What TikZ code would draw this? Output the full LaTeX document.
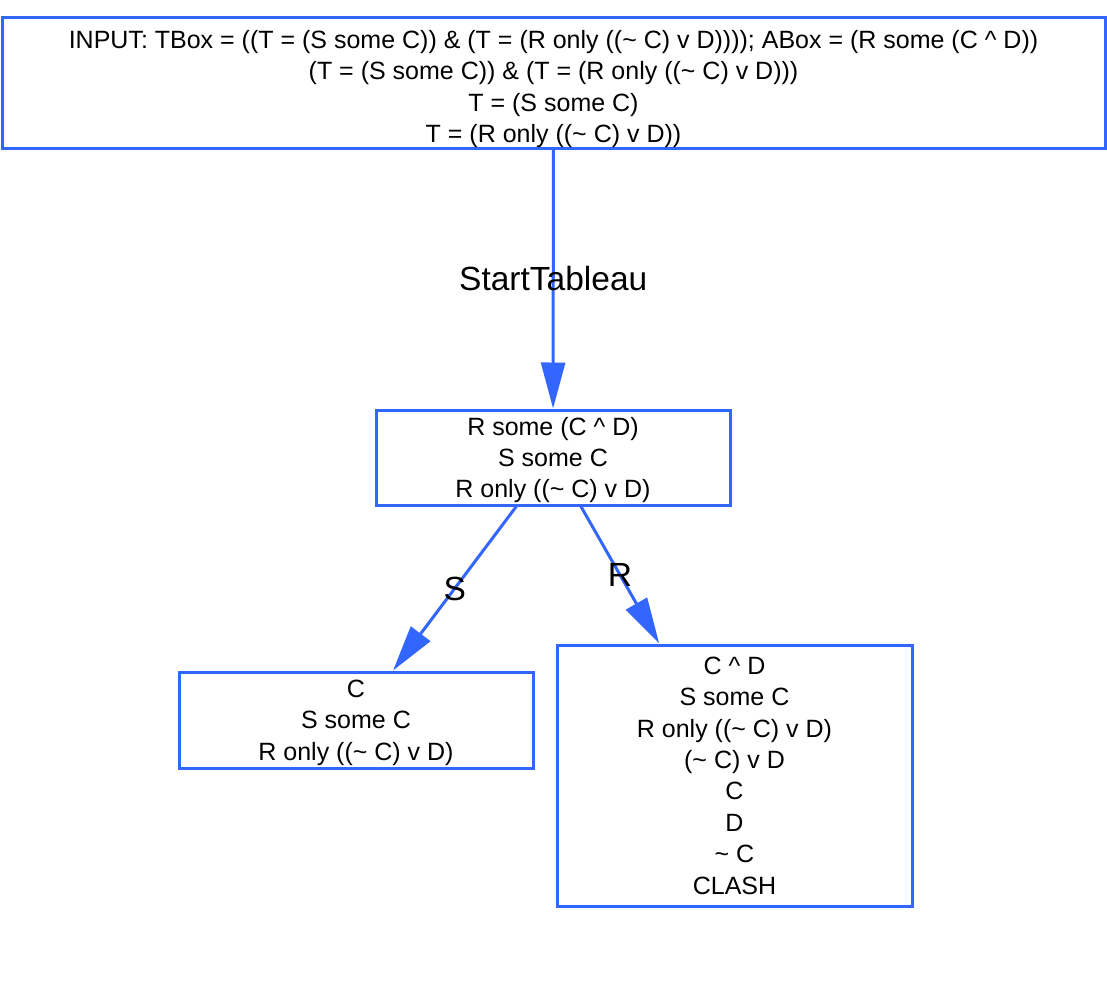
\documentclass[tikz,border=0pt]{standalone}
\usepackage{fontspec}
\setmainfont{Liberation Sans}
\usetikzlibrary{arrows.meta}
\definecolor{tabblue}{RGB}{51,102,255}
\newcommand{\tld}{\textasciitilde}
\newcommand{\crt}{\textasciicircum}
\begin{document}
\begin{tikzpicture}[x=1pt,y=-1pt,
    box/.style={draw=tabblue,line width=3pt,inner sep=0pt,align=center,
      font=\fontsize{25}{31.4}\selectfont},
    edge/.style={draw=tabblue,line width=3pt,-{Triangle[length=46pt,width=24pt]}},
    lbl/.style={font=\fontsize{33.5}{38}\selectfont,inner sep=0pt}]
    \useasboundingbox (0,0) rectangle (1107,982);
    \node[box,text depth=0pt,minimum width=1103pt,minimum height=130pt] (input) at (553.5,83)
      {\rule{0pt}{25pt}INPUT: TBox = ((T = (S some C)) \& (T = (R only ((\tld{} C) v D)))); ABox = (R some (C \crt{} D))\\
       (T = (S some C)) \& (T = (R only ((\tld{} C) v D)))\\
       T = (S some C)\\
       T = (R only ((\tld{} C) v D))};
    \node[box,text depth=0pt,minimum width=354pt,minimum height=95pt] (root) at (553,457.5)
      {R some (C \crt{} D)\\ S some C\\ R only ((\tld{} C) v D)};
    \node[box,text depth=0pt,minimum width=354pt,minimum height=96pt] (sbranch) at (356,720)
      {C\\ S some C\\ R only ((\tld{} C) v D)};
    \node[box,minimum width=355pt,minimum height=261pt] (rbranch) at (734.5,775.5)
      {C \crt{} D\\ S some C\\ R only ((\tld{} C) v D)\\ (\tld{} C) v D\\ C\\ D\\ \tld{} C\\ CLASH};
    \draw[edge] (input) -- node[lbl]{StartTableau} (root);
    \draw[edge] (root) -- node[lbl]{S} (sbranch);
    \draw[edge] (root) -- node[lbl]{R} (rbranch);
  \end{tikzpicture}
\end{document}
